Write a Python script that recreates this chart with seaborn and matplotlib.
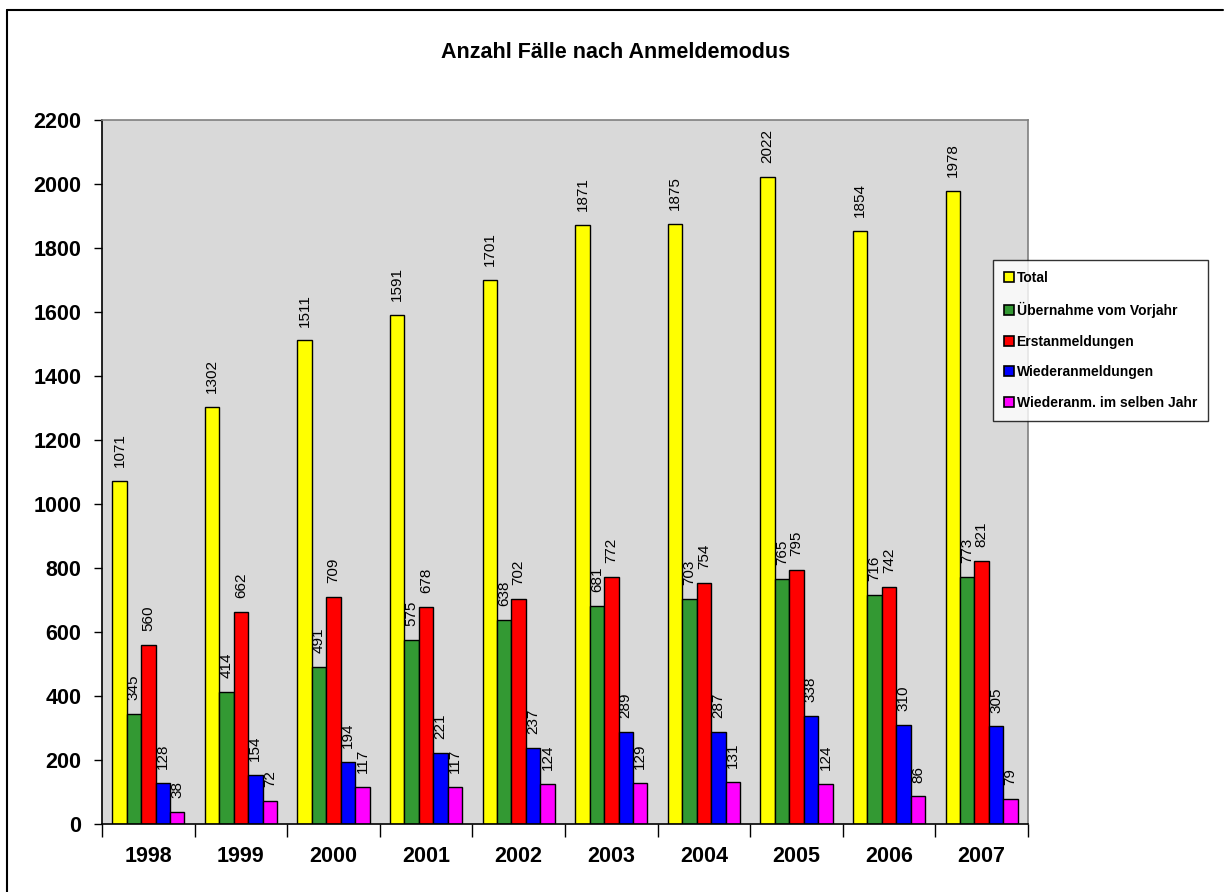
import matplotlib.pyplot as plt
from matplotlib.lines import Line2D
import seaborn as sns
import pandas as pd
import numpy as np

# data
years = ['1998', '1999', '2000', '2001', '2002', '2003', '2004', '2005', '2006', '2007']
series = ['Total', 'Übernahme vom Vorjahr', 'Erstanmeldungen',
          'Wiederanmeldungen', 'Wiederanm. im selben Jahr']
total = [1071, 1302, 1511, 1591, 1701, 1871, 1875, 2022, 1854, 1978]
uebernahme = [345, 414, 491, 575, 638, 681, 703, 765, 716, 773]
erstanm = [560, 662, 709, 678, 702, 772, 754, 795, 742, 821]
wiederanm = [128, 154, 194, 221, 237, 289, 287, 338, 310, 305]
selbes_jahr = [38, 72, 117, 117, 124, 129, 131, 124, 86, 79]
colors = ['#FFFF00', '#339933', '#FF0000', '#0000FF', '#FF00FF']

rows = []
for name, vals in zip(series, [total, uebernahme, erstanm, wiederanm, selbes_jahr]):
    for y, v in zip(years, vals):
        rows.append({'Jahr': y, 'Modus': name, 'Anzahl': v})
df = pd.DataFrame(rows)

sns.set_theme(style='white')
plt.rcParams['font.family'] = ['Liberation Sans', 'DejaVu Sans']
plt.rcParams['text.color'] = 'black'
plt.rcParams['xtick.color'] = 'black'
plt.rcParams['ytick.color'] = 'black'

fig = plt.figure(figsize=(12.27, 8.92), dpi=100)
ax = fig.add_axes([102 / 1227, 1 - 824 / 892, 926 / 1227, 704 / 892])

sns.barplot(data=df, x='Jahr', y='Anzahl', hue='Modus', order=years,
            hue_order=series, palette=colors, width=0.78, edgecolor='black',
            linewidth=1.0, saturation=1, ax=ax, legend=False)

for cont in ax.containers:
    ax.bar_label(cont, fmt='%d', rotation=90, padding=10, fontsize=11,
                 color='black')

ax.set_facecolor('#D9D9D9')
ax.set_ylim(0, 2200)
ax.set_xlim(-0.5, 9.5)
ax.set_yticks(np.arange(0, 2201, 200))
ax.set_xlabel('')
ax.set_ylabel('')
ax.set_xticks(np.arange(-0.5, 10, 1), minor=True)
ax.tick_params(axis='x', which='major', length=0, pad=16, labelsize=15.5)
ax.tick_params(axis='x', which='minor', length=9, width=1, color='black',
               direction='out', bottom=True)
ax.tick_params(axis='y', length=6, width=1, color='black', direction='out',
               left=True, pad=9, labelsize=15.5)
for lab in ax.get_xticklabels() + ax.get_yticklabels():
    lab.set_fontweight('bold')

for side in ['left', 'bottom']:
    ax.spines[side].set_color('black')
    ax.spines[side].set_linewidth(1.2)
for side in ['top', 'right']:
    ax.spines[side].set_color('#808080')
    ax.spines[side].set_linewidth(1.2)

fig.text(616 / 1227, 1 - 52 / 892, 'Anzahl Fälle nach Anmeldemodus',
         ha='center', va='center', fontsize=15.5, fontweight='bold')

handles = [plt.Rectangle((0, 0), 1, 1, facecolor=c, edgecolor='black', linewidth=1.2)
           for c in colors]
leg = fig.legend(handles, series, loc='upper left',
                 bbox_to_anchor=(993 / 1227, 1 - 260 / 892),
                 frameon=True, fancybox=False, fontsize=10,
                 handlelength=0.7, handleheight=0.7, handletextpad=0.2,
                 labelspacing=1.2, borderpad=0.8, borderaxespad=0)
leg.get_frame().set_edgecolor('black')
leg.get_frame().set_linewidth(1.0)
for t in leg.get_texts():
    t.set_fontweight('bold')

# outer chart border (top and left)
fig.add_artist(Line2D([7 / 1227, 1223 / 1227], [1 - 10 / 892, 1 - 10 / 892],
                      transform=fig.transFigure, color='black', linewidth=1.5))
fig.add_artist(Line2D([7 / 1227, 7 / 1227], [0, 1 - 10 / 892],
                      transform=fig.transFigure, color='black', linewidth=1.5))

fig.savefig('out.png', dpi=100, facecolor='white')
